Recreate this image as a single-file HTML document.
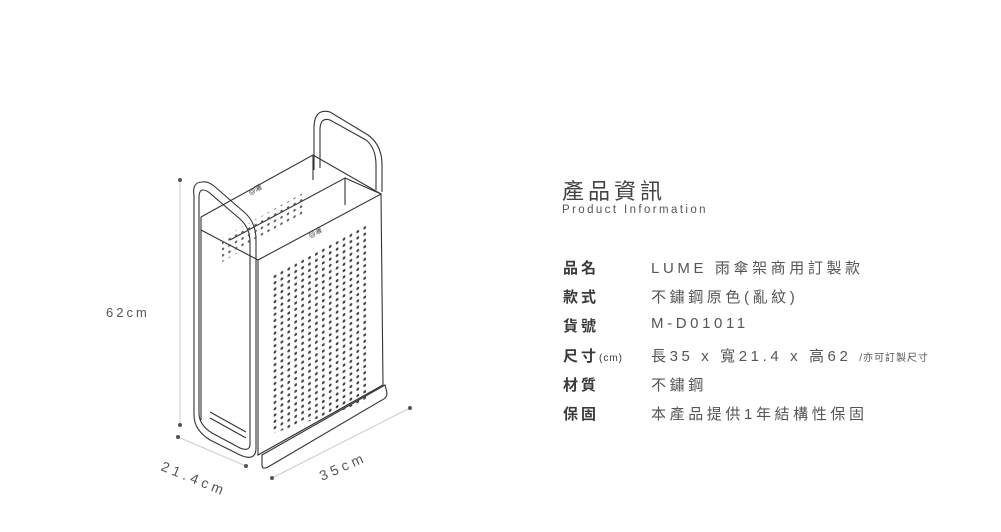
<!DOCTYPE html>
<html><head><meta charset="utf-8"><style>
html,body{margin:0;padding:0;background:#fff;}
body{width:1001px;height:532px;position:relative;overflow:hidden;font-family:"Liberation Sans","Noto Sans CJK TC",sans-serif;color:#444;}
.t{position:absolute;white-space:nowrap;}
.lab{position:absolute;left:563px;font-size:15px;letter-spacing:3px;color:#3a3a3a;font-weight:bold;}
.val{position:absolute;left:651px;font-size:15px;letter-spacing:3.6px;color:#555;}
</style></head><body>
<svg width="1001" height="532" style="position:absolute;left:0;top:0" xmlns="http://www.w3.org/2000/svg">
<defs>
<pattern id="h" width="6.9" height="6.3" patternUnits="userSpaceOnUse" patternTransform="translate(272,275) skewY(-28.4)">
<circle cx="3" cy="3" r="1.4" fill="#444"/></pattern>
<pattern id="h2" width="6.5" height="6.3" patternUnits="userSpaceOnUse" patternTransform="translate(220,235) skewY(-28.4)">
<circle cx="3" cy="3" r="1.2" fill="#555"/></pattern>
</defs>
<g fill="none" stroke="#333" stroke-width="1.1">
<polyline points="201,217 313,155 381,194"/>
<line x1="201" y1="217" x2="201" y2="420"/>
<line x1="201" y1="230" x2="258" y2="260"/>
<line x1="313" y1="155" x2="313" y2="180"/>
<polyline points="230,240 345,178 345,205"/>
<line x1="345" y1="178" x2="381" y2="194"/>
<path d="M314,170 V128 Q314,108 330,112 L368,135 Q382,145 382,165 V192"/>
<path d="M320,168 V130 Q320,117 330,120 L366,140 Q376,148 376,165 V190"/>
<polygon points="258,260 381,194 383,385 258,455"/>
<path d="M262,455 L385,385 L387,393 Q387,398 382,400 L268,467 Q262,470 262,465 Z"/>
<path d="M202,182 Q192,182 194,196 V415 Q194,430 210,440 L240,455 Q256,462 256,448 V240 Q256,222 244,212 L214,186 Q208,181 202,182 Z"/>
<path d="M203,190 Q199,190 199,198 V413 Q199,425 212,433 L240,448 Q250,452 250,444 V242 Q250,228 240,219 L212,195 Q207,190 203,190 Z"/>
<line x1="210" y1="412" x2="246" y2="432"/>
<line x1="210" y1="418" x2="246" y2="438"/>
</g>
<polygon points="271,276 370,222 370,401 271,434" fill="url(#h)"/>
<polygon points="222,238 305,192 303,215 222,262" fill="url(#h2)"/>
<text x="310" y="238" font-size="7" fill="#444" transform="rotate(-28 310 238)">@灑</text>
<text x="250" y="195" font-size="7" fill="#444" transform="rotate(-28 250 195)">@灑</text>
<g stroke="#ccc" stroke-width="1"><line x1="180" y1="180" x2="180" y2="425"/><line x1="178" y1="437" x2="246" y2="466"/><line x1="272" y1="478" x2="410" y2="408"/></g>
<g fill="#555"><circle cx="180" cy="180" r="2"/><circle cx="180" cy="425" r="2"/><circle cx="178" cy="437" r="2"/><circle cx="246" cy="466" r="2"/><circle cx="272" cy="478" r="2"/><circle cx="410" cy="408" r="2"/></g>
<text x="106" y="317" font-size="13" fill="#555" letter-spacing="3">62cm</text>
<text x="160" y="470" font-size="14" fill="#555" letter-spacing="4" transform="rotate(22 160 470)">21.4cm</text>
<text x="322" y="481" font-size="14" fill="#555" letter-spacing="4" transform="rotate(-24 322 481)">35cm</text>
</svg>
<div class="t" style="left:562px;top:174px;font-size:22px;letter-spacing:4px;color:#444;">產品資訊</div>
<div class="t" style="left:562px;top:204px;font-size:11.5px;letter-spacing:2.4px;color:#555;">Product Information</div>
<div class="lab" style="top:257px">品名</div><div class="val" style="top:257px">LUME 雨傘架商用訂製款</div>
<div class="lab" style="top:286px">款式</div><div class="val" style="top:286px">不鏽鋼原色(亂紋)</div>
<div class="lab" style="top:315px">貨號</div><div class="val" style="top:315px">M-D01011</div>
<div class="lab" style="top:345px">尺寸<span style="font-size:10px;letter-spacing:1px;font-weight:normal">(cm)</span></div><div class="val" style="top:345px">長35 x 寬21.4 x 高62 <span style="font-size:10px;letter-spacing:1px">/亦可訂製尺寸</span></div>
<div class="lab" style="top:374px">材質</div><div class="val" style="top:374px">不鏽鋼</div>
<div class="lab" style="top:403px">保固</div><div class="val" style="top:403px">本產品提供1年結構性保固</div>
</body></html>
